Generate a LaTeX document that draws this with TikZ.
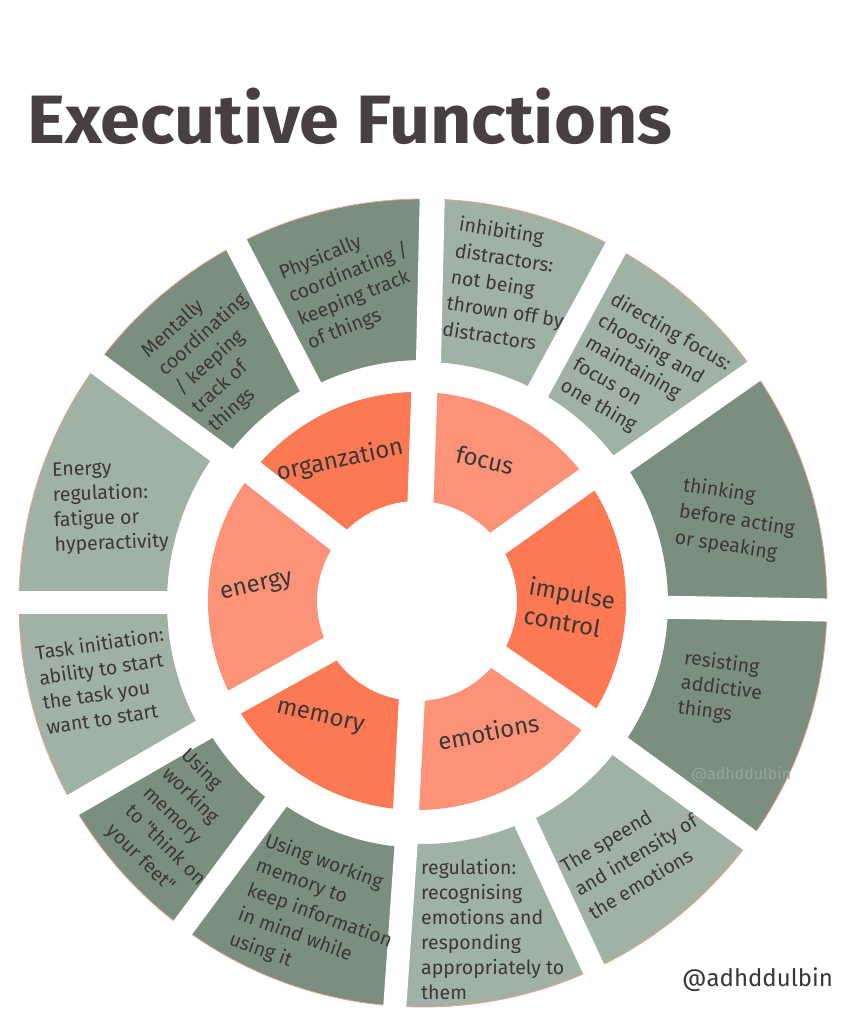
\documentclass[tikz,border=0pt]{standalone}
\usepackage{graphicx}
\usepackage{fontspec}
\setmainfont{Fira Sans}[Ligatures=TeXOff]
\usetikzlibrary{calc}
\definecolor{dgreen}{RGB}{123,143,128}
\definecolor{lgreen}{RGB}{160,178,165}
\definecolor{dorange}{RGB}{252,121,83}
\definecolor{lorange}{RGB}{252,147,120}
\definecolor{txtc}{RGB}{58,56,55}
\definecolor{titlec}{RGB}{72,64,64}
\definecolor{rimc}{RGB}{240,160,140}
\definecolor{wmc}{RGB}{150,166,154}
\newcommand\ringseg[6]{%
  \fill[#6] ($(#1)+(#2:#4)$) arc[start angle=#2, end angle=#3, radius=#4]
    -- ($(#1)+(#3:#5)$) arc[start angle=#3, end angle=#2, radius=#5] -- cycle;}
\newcommand\ringgap[5]{%
  \draw[white, line width=#5] ($(#1)+(#2:#3)$) -- ($(#1)+(#2:#4)$);}
\begin{document}
\begin{tikzpicture}[x=1pt,y=1pt,
  otext/.style={font=\fontsize{19.5}{25}\selectfont, text=txtc, align=left, inner sep=0pt, anchor=west},
  itext/.style={font=\fontsize{24}{30}\selectfont, text=txtc, inner sep=0pt}]
\fill[white] (0,0) rectangle (852,1023);
\useasboundingbox (0,0) rectangle (852,1023);
\coordinate (C1) at (417,422);
\coordinate (C2) at (423,420);
% outer ring
\ringseg{C2}{-1}{35}{245}{404}{dgreen}
\ringseg{C2}{-36}{-1}{245}{404}{dgreen}
\ringseg{C2}{-65}{-36}{243}{404}{lgreen}
\ringseg{C2}{-94}{-65}{241}{404}{lgreen}
\ringseg{C2}{-126.5}{-94}{245}{404}{dgreen}
\ringseg{C2}{-150}{-126.5}{250}{404}{dgreen}
\ringseg{C2}{-180}{-150}{256}{404}{lgreen}
\ringseg{C2}{143.7}{180}{256}{404}{lgreen}
\ringseg{C2}{117.5}{143.7}{245}{404}{dgreen}
\ringseg{C2}{88.7}{117.5}{243}{404}{dgreen}
\ringseg{C2}{61.5}{88.7}{241}{404}{lgreen}
\ringseg{C2}{35}{61.5}{241}{404}{lgreen}
\draw[rimc, line width=0.8pt] (C2) circle[radius=404];
\foreach \a in {-1,-36,-65,-94,-126.5,-150,180,143.7,117.5,61.5,35}
  {\ringgap{C2}{\a}{225}{420}{23pt}}
\ringgap{C2}{88.7}{225}{420}{25pt}
% inner ring
\ringseg{C1}{35.5}{88}{100}{209}{lorange}
\ringseg{C1}{88}{142}{100}{209}{dorange}
\ringseg{C1}{142}{209}{100}{209}{lorange}
\ringseg{C1}{-151}{-93}{100}{209}{dorange}
\ringseg{C1}{-93}{-34.5}{100}{209}{lorange}
\ringseg{C1}{-34.5}{35.5}{100}{209}{dorange}
\foreach \a in {88,35.5,-34.5,-93,-151,142}
  {\ringgap{C1}{\a}{90}{220}{26pt}}
% title
\node[anchor=base west, inner sep=0pt, text=titlec] (title) at (27,879)
  {\resizebox{645pt}{55.5pt}{\bfseries\fontsize{74}{80}\selectfont Executive Functions}};
% outer texts
\node[otext, rotate=22] (physically) at (294.2,713.8) {Physically\\coordinating /\\keeping track\\of things};
\node[otext, rotate=42] (mentally) at (178.3,631.3) {Mentally\\coordinating\\/ keeping\\track of\\things};
\node[otext, rotate=2] (energyreg) at (53.3,513.8) {Energy\\regulation:\\fatigue or\\hyperactivity};
\node[otext, rotate=8.5] (task) at (40.8,333) {Task initiation:\\ability to start\\the task you\\want to start};
\node[otext, rotate=-44.5, font=\fontsize{19.5}{26.5}\selectfont] (feet) at (146.7,233) {Using\\working\\memory\\to "think on\\your feet"};
\node[otext, rotate=-20, font=\fontsize{19.5}{26}\selectfont] (keep) at (247.5,133) {Using working\\memory to\\keep information\\in mind while\\using it};
\node[otext, rotate=-9, font=\fontsize{19.5}{26.5}\selectfont] (inhib) at (451,747.2) {inhibiting\\distractors:\\not being\\thrown off by\\distractors};
\node[otext, rotate=-30] (direct) at (586.8,681.3) {directing focus:\\choosing and\\maintaining\\focus on\\one thing};
\node[otext, rotate=-9, font=\fontsize{19.5}{26.5}\selectfont] (thinking) at (679,511.3) {thinking\\before acting\\or speaking};
\node[otext, rotate=-7.5] (resist) at (681,339.7) {resisting\\addictive\\things};
\node[otext, rotate=31, font=\fontsize{19.5}{27}\selectfont] (speend) at (576,132.2) {The speend\\and intensity of\\the emotions};
\node[otext] (regul) at (421,93) {regulation:\\recognising\\emotions and\\responding\\appropriately to\\them};
% inner texts
\node[itext, rotate=12] (org) at (340,562.3) {organzation};
\node[itext, rotate=-13] (focus) at (485,563) {focus};
\node[itext, rotate=-10, align=left, anchor=west] (impulse) at (526.7,423) {impulse\\control};
\node[itext, rotate=11] (emo) at (488.3,291.3) {emotions};
\node[itext, rotate=-13] (mem) at (320,304.7) {memory};
\node[itext, rotate=13] (energy) at (256.7,435.7) {energy};
% handles
\node[font=\fontsize{16}{18}\selectfont, text=wmc, inner sep=0pt] (wm) at (741,248) {@adhddulbin};
\node[font=\fontsize{24}{28}\selectfont, text=txtc, inner sep=0pt] (handle) at (757.5,43) {@adhddulbin};
\end{tikzpicture}
\end{document}
